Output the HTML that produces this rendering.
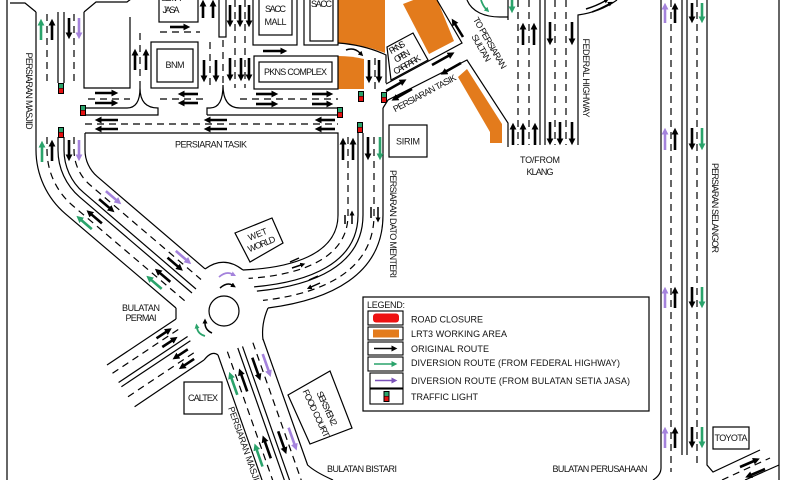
<!DOCTYPE html>
<html><head><meta charset="utf-8">
<style>
html,body{margin:0;padding:0;background:#fff;}
svg{display:block;}
text{font-family:"Liberation Sans",sans-serif;font-size:9px;fill:#111;}
.l{fill:none;stroke:#000;stroke-width:1.2}
.d{fill:none;stroke:#000;stroke-width:1.2;stroke-dasharray:7 5}
.ak{stroke:#000;stroke-width:2.6;marker-end:url(#hk)}
.ag{stroke:#2aa36b;stroke-width:2.6;marker-end:url(#hg)}
.ap{stroke:#a482dc;stroke-width:2.6;marker-end:url(#hp)}
.sk{fill:none;stroke:#000;stroke-width:1.5;marker-end:url(#hs)}
.sg{fill:none;stroke:#2aa36b;stroke-width:1.8;marker-end:url(#hsg)}
.sp{fill:none;stroke:#a482dc;stroke-width:1.8;marker-end:url(#hsp)}
.or{fill:#e37b1c}
</style></head>
<body>
<svg width="787" height="480" viewBox="0 0 787 480" xmlns="http://www.w3.org/2000/svg">
<defs>
<marker id="hk" viewBox="0 0 10 10" refX="1" refY="5" markerWidth="7" markerHeight="7" markerUnits="userSpaceOnUse" orient="auto"><path d="M0,0L10,5L0,10z" fill="#000"/></marker>
<marker id="hg" viewBox="0 0 10 10" refX="1" refY="5" markerWidth="7" markerHeight="7" markerUnits="userSpaceOnUse" orient="auto"><path d="M0,0L10,5L0,10z" fill="#2aa36b"/></marker>
<marker id="hp" viewBox="0 0 10 10" refX="1" refY="5" markerWidth="7" markerHeight="7" markerUnits="userSpaceOnUse" orient="auto"><path d="M0,0L10,5L0,10z" fill="#a482dc"/></marker>
<marker id="hs" viewBox="0 0 10 10" refX="1" refY="5" markerWidth="5" markerHeight="5" markerUnits="userSpaceOnUse" orient="auto"><path d="M0,0L10,5L0,10z" fill="#000"/></marker>
<marker id="hsg" viewBox="0 0 10 10" refX="1" refY="5" markerWidth="5" markerHeight="5" markerUnits="userSpaceOnUse" orient="auto"><path d="M0,0L10,5L0,10z" fill="#2aa36b"/></marker>
<marker id="hsp" viewBox="0 0 10 10" refX="1" refY="5" markerWidth="5" markerHeight="5" markerUnits="userSpaceOnUse" orient="auto"><path d="M0,0L10,5L0,10z" fill="#a482dc"/></marker>
<marker id="hl" viewBox="0 0 10 10" refX="1" refY="5" markerWidth="6" markerHeight="6" markerUnits="userSpaceOnUse" orient="auto"><path d="M0,0L10,5L0,10z" fill="#000"/></marker>
<marker id="hlg" viewBox="0 0 10 10" refX="1" refY="5" markerWidth="6" markerHeight="6" markerUnits="userSpaceOnUse" orient="auto"><path d="M0,0L10,5L0,10z" fill="#2aa36b"/></marker>
<marker id="hlp" viewBox="0 0 10 10" refX="1" refY="5" markerWidth="6" markerHeight="6" markerUnits="userSpaceOnUse" orient="auto"><path d="M0,0L10,5L0,10z" fill="#7b52b9"/></marker>
<g id="tl"><rect x="-3" y="0" width="6" height="11" fill="#000"/><rect x="-2" y="1" width="4" height="4" fill="#2aa36b"/><rect x="-2" y="5.5" width="4" height="4.5" fill="#e31111"/></g>
</defs>

<!-- ORANGE WORK AREAS -->
<path class="or" d="M338,0 H385 V53 Q362,44 338,43 Z"/>
<path class="or" d="M338,56 Q352,56 364,59 V89 H338 Z"/>
<polygon class="or" points="403,4 434,-8 454,41 429,54"/>
<polygon class="or" points="458,77 467,69 502,124 502,143 490,143 490,132"/>

<!-- FRAME -->
<path class="l" d="M7,0 V480"/>
<path class="l" d="M779,0 V480"/>
<path class="l" d="M10,3 H25 L36,12"/>
<path class="l" d="M84,12 L96,2 H127 L131,-1"/>

<!-- LEFT ROAD + NW DIAGONAL -->
<path class="l" d="M36,12 V150 A84,84 0 0 0 65.4,213.8 L176,308"/>
<path class="d" d="M47,14 V83 M47,137 V150 A73,73 0 0 0 72.6,205.5 L185,301"/>
<path class="l" d="M58,12 V83 M58,137 V150 A62,62 0 0 0 79.7,197.1 L192,293"/>
<path class="l" d="M64,12 V83 M64,137 V150 A56,56 0 0 0 83.6,192.6 L196,289"/>
<path class="d" d="M74,14 V83 M74,137 V150 A46,46 0 0 0 90.1,185 L201,279.5"/>
<path class="l" d="M85,133 V150 A35,35 0 0 0 97.25,176.6 L205,268.8"/>
<path class="l" d="M84,12 V88 H130 V17"/>

<!-- TOP BLOCKS -->
<rect class="l" x="159" y="-1" width="39" height="23"/>
<rect class="l" x="151" y="42" width="47" height="46"/>
<rect class="l" x="157" y="49" width="36" height="33"/>
<rect class="l" x="219" y="-1" width="7" height="38"/>
<rect class="l" x="253" y="-1" width="44" height="46"/>
<rect class="l" x="259" y="-1" width="33" height="36"/>
<rect class="l" x="304" y="-1" width="34" height="46"/>
<rect class="l" x="310" y="-1" width="23" height="42"/>
<rect class="l" x="254" y="56" width="84" height="33"/>
<rect class="l" x="259" y="62" width="73" height="20"/>
<path class="d" d="M160,32 H200"/>
<path class="d" d="M140,33 V88"/>
<path class="d" d="M223,40 V85"/>
<path class="d" d="M210,42 V88 M235,0 V88 M245,0 V88"/>
<path class="l" d="M338,43 Q365,45 386,55 V83"/>
<path class="d" d="M375,58 V90"/>

<!-- PERSIARAN TASIK (horizontal) -->
<path class="l" d="M85,108 H127 Q140,108 140,88 Q140,108 158,108 V115 H85"/>
<path class="l" d="M207,115 V108 H210 Q223,108 223,85 Q223,108 240,108 H338 M207,115 H338"/>
<path class="d" d="M88,99 H130 M160,99 H205 M240,99 H338"/>
<path class="d" d="M85,124 H338"/>
<path class="l" d="M85,133 H338 V215 C338,255 290,268 243,270"/>

<!-- DATO MENTERI + CURVE -->
<path class="d" d="M348,137 V215 C348,259.4 298.9,275.1 248.6,278.4"/>
<path class="l" d="M358,133 V215 C358,263.9 307.8,282.2 254.1,286.9"/>
<path class="l" d="M363,133 V215 C363,266.1 312.2,285.8 256.9,291.1"/>
<path class="d" d="M374,137 V215 C374,271 322,293.6 263,300.4"/>
<path class="l" d="M383,108 V215 C383,275 330,300 268,308"/>

<!-- P TASIK EAST / SULTAN / CARPARK -->
<path class="l" d="M386,84 L462,43 L437,0"/>
<path class="l" d="M383,108 L388,100 L467,60 L508,123 V147"/>
<polygon class="l" points="387,47 413,33 428,60 391,80"/>

<!-- ROUNDABOUT -->
<path class="l" d="M205,269 Q224,255 243,270"/>
<path class="l" d="M268,308 Q261,324 263,340"/>
<path class="l" d="M204,360 Q212,350 218,355"/>
<path class="l" d="M176,308 V319"/>
<circle class="l" cx="224" cy="311" r="15"/>

<!-- SW ROAD -->
<path class="l" d="M107,365 L176,319"/>
<path class="d" d="M112.5,373.3 L181.5,327.3"/>
<path class="l" d="M118.6,382.5 L187.6,336.5"/>
<path class="l" d="M121.4,386.7 L190.4,340.7"/>
<path class="d" d="M128,396.7 L197,350.7"/>
<path class="l" d="M134.6,406.7 L204,360"/>

<!-- SE ROAD -->
<path class="l" d="M218,355 L262.7,482"/>
<path class="d" d="M227.4,351.7 L273.3,482"/>
<path class="l" d="M237.8,348 L285,482"/>
<path class="l" d="M242.5,346.4 L290.2,482"/>
<path class="d" d="M252.9,342.7 L301.9,482"/>
<path class="l" d="M263,339 L307.6,465 Q315,472 333,480"/>

<!-- FEDERAL HIGHWAY -->
<path class="l" d="M467,0 C472,12 485,17 500,17 L508,17 M508,0 V20"/>
<path class="d" d="M518,0 V145 M529,0 V145 M555,0 V145 M566,0 V145"/>
<path class="l" d="M540,0 V145 M545,0 V145"/>
<path class="l" d="M578,145 V15 Q600,12 617,0"/>

<!-- PERSIARAN SELANGOR -->
<path class="l" d="M661,0 V468 Q661,475 653,480"/>
<path class="d" d="M671,0 V472 M697,0 V466"/>
<path class="l" d="M682,0 V455 M687,0 V455"/>
<path class="l" d="M707,0 V465 L713,472 L760,450"/>
<path class="d" d="M722,480 L770,458"/>
<path class="l" d="M745,480 L779,465"/>

<!-- BUILDINGS -->
<rect class="l" x="389" y="125" width="38" height="32"/>
<polygon class="l" points="235,233 272,218 283,243 250,262"/>
<rect class="l" x="184" y="382" width="38" height="32"/>
<polygon class="l" points="288,395 330,371 352,428 310,444"/>
<rect class="l" x="713" y="427" width="36" height="22"/>

<!-- TRAFFIC LIGHTS -->
<use href="#tl" x="61" y="83"/>
<use href="#tl" x="83" y="105"/>
<use href="#tl" x="61" y="127"/>
<use href="#tl" x="361" y="91"/>
<use href="#tl" x="384" y="92"/>
<use href="#tl" x="340" y="107"/>
<use href="#tl" x="360" y="122"/>

<!-- ARROWS: left road -->
<line class="ag" x1="41" y1="40" x2="41" y2="25"/>
<line class="ak" x1="52" y1="40" x2="52" y2="25"/>
<line class="ak" x1="69" y1="18" x2="69" y2="33"/>
<line class="ap" x1="79" y1="18" x2="79" y2="33"/>
<line class="ag" x1="42" y1="162" x2="42" y2="147"/>
<line class="ak" x1="52" y1="161" x2="52" y2="146"/>
<line class="ak" x1="69" y1="140" x2="69" y2="155"/>
<line class="ap" x1="79" y1="140" x2="79" y2="155"/>

<!-- top roads -->
<line class="ak" x1="135" y1="70" x2="135" y2="55"/>
<line class="ak" x1="146" y1="70" x2="146" y2="55"/>
<line class="ak" x1="203" y1="18" x2="203" y2="6"/>
<line class="ak" x1="213" y1="18" x2="213" y2="6"/>
<line class="ak" x1="230" y1="5" x2="230" y2="21"/>
<line class="ak" x1="240" y1="5" x2="240" y2="21"/>
<line class="ak" x1="249" y1="5" x2="249" y2="21"/>
<line class="ak" x1="204" y1="60" x2="204" y2="76"/>
<line class="ak" x1="216" y1="60" x2="216" y2="76"/>
<line class="ak" x1="230" y1="58" x2="230" y2="75"/>
<line class="ak" x1="241" y1="58" x2="241" y2="75"/>
<line class="ak" x1="249" y1="58" x2="249" y2="75"/>
<line class="ak" x1="170" y1="27" x2="184" y2="27"/>
<line class="ak" x1="263" y1="51" x2="281" y2="51"/>
<line class="ak" x1="369" y1="60" x2="369" y2="77"/>
<line class="ak" x1="379" y1="60" x2="379" y2="77"/>

<!-- P Tasik horizontal arrows -->
<line class="ak" x1="95" y1="93" x2="112" y2="93"/>
<line class="ak" x1="95" y1="103" x2="112" y2="103"/>
<line class="ak" x1="256" y1="94" x2="272" y2="94"/>
<line class="ak" x1="256" y1="104" x2="272" y2="104"/>
<line class="ak" x1="312" y1="94" x2="327" y2="94"/>
<line class="ak" x1="312" y1="104" x2="327" y2="104"/>
<line class="ak" x1="198" y1="94" x2="184" y2="94"/>
<line class="ak" x1="198" y1="103" x2="184" y2="103"/>
<line class="ak" x1="118" y1="120" x2="101" y2="120"/>
<line class="ak" x1="118" y1="129" x2="101" y2="129"/>
<line class="ak" x1="227" y1="120" x2="210" y2="120"/>
<line class="ak" x1="227" y1="129" x2="210" y2="129"/>
<line class="ak" x1="335" y1="120" x2="321" y2="120"/>
<line class="ak" x1="335" y1="129" x2="321" y2="129"/>

<!-- Dato Menteri arrows -->
<line class="ak" x1="343" y1="160" x2="343" y2="144"/>
<line class="ak" x1="353" y1="160" x2="353" y2="144"/>
<line class="ak" x1="368" y1="137" x2="368" y2="154"/>
<line class="ag" x1="380" y1="137" x2="380" y2="154"/>

<!-- P Tasik east / Sultan -->
<line class="ak" x1="386" y1="91" x2="401" y2="82.5"/>
<line class="ak" x1="432" y1="65" x2="449" y2="55.5"/>
<line class="ak" x1="412" y1="89" x2="397" y2="97.5"/>
<line class="ak" x1="461" y1="63" x2="446" y2="71.5"/>
<line class="ak" x1="463" y1="37" x2="455" y2="24"/>

<!-- Federal highway arrows -->
<line class="ag" x1="512" y1="0" x2="512" y2="7"/>
<line class="ak" x1="523" y1="45" x2="523" y2="29"/>
<line class="ak" x1="534" y1="45" x2="534" y2="29"/>
<line class="ak" x1="550" y1="22" x2="550" y2="39"/>
<line class="ak" x1="572" y1="22" x2="572" y2="39"/>
<line class="ak" x1="513" y1="145" x2="513" y2="129"/>
<line class="ak" x1="523" y1="145" x2="523" y2="129"/>
<line class="ak" x1="535" y1="145" x2="535" y2="129"/>
<line class="ak" x1="550" y1="122" x2="550" y2="139"/>
<line class="ak" x1="560" y1="122" x2="560" y2="139"/>
<line class="ak" x1="572" y1="122" x2="572" y2="139"/>
<path class="sk" d="M586,9 Q596,6 605,1"/>
<path class="sk" d="M592,12 Q600,9 609,4"/>
<path class="sg" d="M481,0 Q483,6 486,9"/>

<!-- Selangor arrows -->
<line class="ap" x1="665" y1="23" x2="665" y2="9"/>
<line class="ak" x1="675" y1="23" x2="675" y2="9"/>
<line class="ak" x1="692" y1="3" x2="692" y2="17"/>
<line class="ag" x1="702" y1="3" x2="702" y2="17"/>
<line class="ap" x1="665" y1="150" x2="665" y2="134"/>
<line class="ak" x1="675" y1="150" x2="675" y2="134"/>
<line class="ak" x1="692" y1="128" x2="692" y2="144"/>
<line class="ag" x1="702" y1="128" x2="702" y2="144"/>
<line class="ap" x1="665" y1="308" x2="665" y2="293"/>
<line class="ak" x1="675" y1="308" x2="675" y2="293"/>
<line class="ak" x1="692" y1="287" x2="692" y2="302"/>
<line class="ag" x1="702" y1="287" x2="702" y2="302"/>
<line class="ap" x1="665" y1="448" x2="665" y2="433"/>
<line class="ak" x1="675" y1="448" x2="675" y2="433"/>
<line class="ak" x1="692" y1="427" x2="692" y2="442"/>
<line class="ag" x1="702" y1="427" x2="702" y2="442"/>
<line class="ak" x1="740" y1="467" x2="754" y2="461"/>
<line class="ak" x1="765" y1="469" x2="751" y2="475"/>

<!-- NW diagonal arrows -->
<line class="ag" x1="91.8" y1="229.1" x2="81.2" y2="220"/>
<line class="ak" x1="101.9" y1="223.4" x2="91.3" y2="214.3"/>
<line class="ak" x1="99.1" y1="199.1" x2="109.7" y2="208.2"/>
<line class="ap" x1="105.9" y1="191.1" x2="116.5" y2="200.2"/>
<line class="ag" x1="161.7" y1="288.9" x2="151.1" y2="279.8"/>
<line class="ak" x1="170.3" y1="281.9" x2="159.7" y2="272.8"/>
<line class="ak" x1="167.5" y1="257.6" x2="178.1" y2="266.7"/>
<line class="ap" x1="175.8" y1="250.9" x2="186.4" y2="260"/>

<!-- SW road arrows -->
<line class="ak" x1="156.5" y1="338.3" x2="166.5" y2="331.7"/>
<line class="ak" x1="162.3" y1="347" x2="172.3" y2="340.4"/>
<line class="ak" x1="187.8" y1="349.3" x2="177.8" y2="355.9"/>
<line class="ak" x1="194.1" y1="358.9" x2="184.1" y2="365.6"/>

<!-- SE road arrows -->
<line class="ag" x1="237.3" y1="394.8" x2="231.3" y2="377.8"/>
<line class="ak" x1="247.2" y1="391.4" x2="241.2" y2="374.4"/>
<line class="ak" x1="252.3" y1="357.7" x2="258.3" y2="374.7"/>
<line class="ap" x1="262.7" y1="354.1" x2="268.7" y2="371.1"/>
<line class="ag" x1="262.5" y1="466.5" x2="256.6" y2="449.5"/>
<line class="ak" x1="270.8" y1="458.3" x2="264.8" y2="441.4"/>
<line class="ak" x1="278.2" y1="431.3" x2="284.2" y2="448.2"/>
<line class="ap" x1="288.6" y1="427.7" x2="294.6" y2="444.6"/>

<!-- roundabout small arrows -->
<path class="sp" d="M219,277 Q226,271 232,274"/>
<path class="sk" d="M220,288 Q227,282 232,285"/>
<path class="sk" d="M212,333 Q205,330 205,323"/>
<path class="sg" d="M205,336 Q198,334 197,328"/>
<path class="sk" d="M345,224 V215 M352,224 V215"/>
<path class="sk" d="M371,207 V218 M378,207 V218"/>
<path class="sk" d="M290,262 L299,258 M292,268 L301,265"/>
<path class="sk" d="M318,276 L309,280 M320,283 L311,287"/>
<path class="sk" d="M346,50 Q354,47 360,53"/>

<!-- LABELS -->
<text x="171" y="1" text-anchor="middle" textLength="20">SETIA</text>
<text x="171" y="13" text-anchor="middle" textLength="17">JASA</text>
<text x="175" y="68" text-anchor="middle" textLength="19">BNM</text>
<text x="275.5" y="12" text-anchor="middle" textLength="21">SACC</text>
<text x="275.5" y="25" text-anchor="middle" textLength="22">MALL</text>
<text x="321.5" y="7" text-anchor="middle" textLength="21">SACC</text>
<text x="295.5" y="75" text-anchor="middle" textLength="63">PKNS COMPLEX</text>
<text x="408" y="144.5" text-anchor="middle" textLength="24">SIRIM</text>
<text x="211" y="147.5" text-anchor="middle" textLength="72">PERSIARAN TASIK</text>
<text x="141" y="311" text-anchor="middle" textLength="38">BULATAN</text>
<text x="141" y="321" text-anchor="middle" textLength="31">PERMAI</text>
<text x="203" y="401" text-anchor="middle" textLength="30">CALTEX</text>
<text x="362" y="472" text-anchor="middle" textLength="70">BULATAN BISTARI</text>
<text x="600" y="472" text-anchor="middle" textLength="95">BULATAN PERUSAHAAN</text>
<text x="731" y="441" text-anchor="middle" textLength="33">TOYOTA</text>
<text x="540" y="163" text-anchor="middle" textLength="40">TO/FROM</text>
<text x="540" y="175" text-anchor="middle" textLength="27">KLANG</text>

<text transform="translate(26,91) rotate(90)" text-anchor="middle" textLength="77">PERSIARAN MASJID</text>
<text transform="translate(390,224) rotate(90)" text-anchor="middle" textLength="108">PERSIARAN DATO MENTERI</text>
<text transform="translate(583,78) rotate(90)" text-anchor="middle" textLength="79">FEDERAL HIGHWAY</text>
<text transform="translate(712,208) rotate(90)" text-anchor="middle" textLength="90">PERSIARAN SELANGOR</text>
<text transform="translate(228,408) rotate(70.6)" textLength="84">PERSIARAN MASJID</text>

<g transform="translate(259.5,239) rotate(-22)">
<text x="0" y="-2" text-anchor="middle" textLength="20">WET</text>
<text x="0" y="8.5" text-anchor="middle" textLength="29">WORLD</text>
</g>
<g transform="translate(402,56) rotate(-30)" style="font-size:8px">
<text x="0" y="-7" text-anchor="middle" textLength="17">PKNS</text>
<text x="0" y="3" text-anchor="middle" textLength="17">OPEN</text>
<text x="0" y="13" text-anchor="middle" textLength="30">CARPARK</text>
</g>
<g transform="translate(485.5,45.5) rotate(60)">
<text x="0" y="-2" text-anchor="middle" textLength="58">TO PERSIARAN</text>
<text x="0" y="8" text-anchor="middle" textLength="30">SULTAN</text>
</g>
<text transform="translate(426,96) rotate(-28)" text-anchor="middle" textLength="70">PERSIARAN TASIK</text>
<g transform="translate(321.5,411) rotate(65)">
<text x="0" y="-3" text-anchor="middle" textLength="37">SEKSYEN 2</text>
<text x="0" y="9" text-anchor="middle" textLength="52">FOOD COURT</text>
</g>

<!-- LEGEND -->
<rect x="363" y="297" width="286" height="114" fill="#fff" stroke="#000" stroke-width="1.2"/>
<text x="367" y="308" textLength="38">LEGEND:</text>
<rect x="368" y="311" width="35" height="14" fill="#fff" stroke="#000" stroke-width="1.1"/>
<rect x="373" y="313.5" width="26" height="9" rx="3" fill="#ee1111"/>
<rect x="368" y="327" width="35" height="13" fill="#fff" stroke="#000" stroke-width="1.1"/>
<rect x="373" y="329.5" width="26" height="8" fill="#e37b1c"/>
<rect x="368" y="342" width="35" height="13" fill="#fff" stroke="#000" stroke-width="1.1"/>
<line x1="374" y1="348.5" x2="392" y2="348.5" stroke="#000" stroke-width="1.6" marker-end="url(#hl)"/>
<rect x="368" y="357" width="35" height="14" fill="#fff" stroke="#000" stroke-width="1.1"/>
<line x1="374" y1="364" x2="392" y2="364" stroke="#2aa36b" stroke-width="1.6" marker-end="url(#hlg)"/>
<rect x="370" y="373" width="33" height="15" fill="#fff" stroke="#000" stroke-width="1.1"/>
<line x1="375" y1="380.5" x2="392" y2="380.5" stroke="#7b52b9" stroke-width="1.6" marker-end="url(#hlp)"/>
<rect x="370" y="389" width="33" height="15" fill="#fff" stroke="#000" stroke-width="1.1"/>
<use href="#tl" x="386.5" y="391"/>
<text x="411" y="322.5" textLength="72">ROAD CLOSURE</text>
<text x="411" y="337" textLength="96">LRT3 WORKING AREA</text>
<text x="411" y="352" textLength="78">ORIGINAL ROUTE</text>
<text x="411" y="366" textLength="209">DIVERSION ROUTE (FROM FEDERAL HIGHWAY)</text>
<text x="411" y="384" textLength="219">DIVERSION ROUTE (FROM BULATAN SETIA JASA)</text>
<text x="411" y="400" textLength="67">TRAFFIC LIGHT</text>
</svg>
</body></html>
